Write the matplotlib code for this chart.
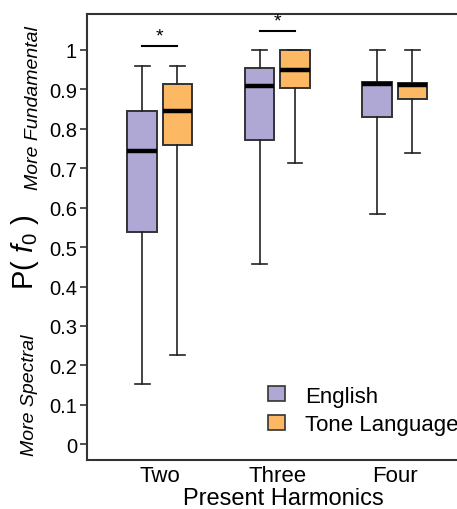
import matplotlib
matplotlib.use("Agg")
import matplotlib.pyplot as plt
from matplotlib.patches import Patch
import numpy as np

plt.rcParams['font.family'] = ['Liberation Sans', 'DejaVu Sans']
plt.rcParams['mathtext.fontset'] = 'custom'
plt.rcParams['mathtext.rm'] = 'Liberation Sans'
plt.rcParams['mathtext.it'] = 'Liberation Sans:italic'

GROUPS = ["Two", "Three", "Four"]
LANGS = ["English", "Tone Language"]
COLORS = ["#b0a8d4", "#fdb863"]

# box stats: [Two, Three, Four]
eng_low = [0.153, 0.457, 0.583]
eng_q1 = [0.539, 0.772, 0.829]
eng_med = [0.744, 0.908, 0.914]
eng_q3 = [0.844, 0.954, 0.918]
eng_high = [0.960, 1.000, 1.000]

tone_low = [0.227, 0.714, 0.739]
tone_q1 = [0.760, 0.904, 0.875]
tone_med = [0.845, 0.950, 0.911]
tone_q3 = [0.913, 1.000, 0.916]
tone_high = [0.960, 1.000, 1.000]

# significant pairs (group index, bar height)
sig_groups = [0, 1]
sig_heights = [1.011, 1.049]


def make_stats(low, q1, med, q3, high):
    return [dict(whislo=a, q1=b, med=c, q3=d, whishi=e, fliers=[])
            for a, b, c, d, e in zip(low, q1, med, q3, high)]


def main():
    fig = plt.figure(figsize=(4.57, 5.10), dpi=100)
    ax = fig.add_axes([0.19, 0.096, 0.86, 0.8745])

    x = np.arange(1, len(GROUPS) + 1)
    off = 0.15
    width = 0.25

    all_stats = [make_stats(eng_low, eng_q1, eng_med, eng_q3, eng_high),
                 make_stats(tone_low, tone_q1, tone_med, tone_q3, tone_high)]

    for i, stats in enumerate(all_stats):
        pos = x + (-off if i == 0 else off)
        ax.bxp(stats, positions=pos, widths=width, capwidths=width / 2,
               showfliers=False, patch_artist=True,
               boxprops=dict(facecolor=COLORS[i], edgecolor="#333333", linewidth=1.4),
               medianprops=dict(color="black", linewidth=3.2, solid_capstyle="butt"),
               whiskerprops=dict(color="#222222", linewidth=1.2),
               capprops=dict(color="#222222", linewidth=1.2),
               manage_ticks=False)

    # significance bars
    for g, h in zip(sig_groups, sig_heights):
        ax.plot([x[g] - off, x[g] + off], [h, h], color="black", linewidth=1.5)
        ax.text(x[g], h + 0.002, "*", ha="center", va="bottom", fontsize=14)

    ax.set_xlim(0.379, 3.724)
    ax.set_ylim(-0.04, 1.091)
    ax.set_yticks(np.arange(0, 1.01, 0.1))
    ax.set_yticklabels(["0", "0.1", "0.2", "0.3", "0.4", "0.5", "0.6", "0.7", "0.8", "0.9", "1"])
    ax.set_xticks(x)
    ax.set_xticklabels(GROUPS)
    ax.tick_params(axis="y", labelsize=14.5, length=5, width=1.2, color="#333333", pad=2)
    ax.tick_params(axis="x", labelsize=16, length=0, pad=3.5)
    for s in ax.spines.values():
        s.set_color("#333333")
        s.set_linewidth(1.5)
    ax.spines["right"].set_visible(False)

    ax.set_xlabel("Present Harmonics", fontsize=17, labelpad=0.5)

    fig.text(25 / 457, 1 - 252 / 510, r"P( $f_0$ )", rotation=90, fontsize=21,
             ha="center", va="center")
    fig.text(34 / 457, 1 - 108 / 510, "More Fundamental", rotation=90, fontsize=14,
             style="italic", ha="center", va="center")
    fig.text(30 / 457, 1 - 395 / 510, "More Spectral", rotation=90, fontsize=14,
             style="italic", ha="center", va="center")

    handles = [Patch(facecolor=c, edgecolor="#333333", linewidth=1.2) for c in COLORS]
    ax.legend(handles, LANGS, loc="upper left", bbox_to_anchor=(0.4606, 0.167),
              frameon=False, fontsize=16, handlelength=0.77, handleheight=0.68,
              handletextpad=0.9, labelspacing=0.34, borderpad=0, borderaxespad=0)

    fig.savefig("out.png", dpi=100)


if __name__ == '__main__':
    main()
